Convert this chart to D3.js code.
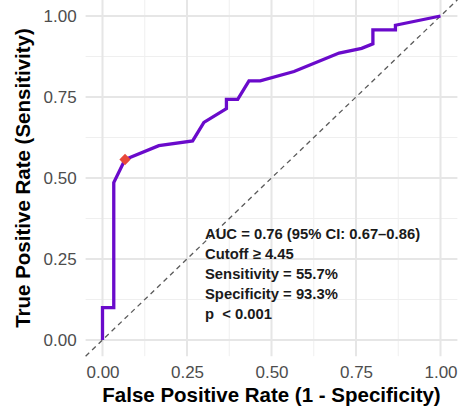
<!DOCTYPE html>
<html>
<head>
<meta charset="utf-8">
<script src="https://cdn.jsdelivr.net/npm/d3@7"></script>
<style>
  body { margin: 0; background: #fff; }
  text { font-family: "Liberation Sans", Arial, sans-serif; }
</style>
</head>
<body>
<svg id="svg" width="461" height="407"></svg>
<script>
// ROC curve points (false positive rate, true positive rate)
const fpr = [0, 0, 1/30, 1/30, 2/30, 5/30, 8/30, 9/30, 11/30, 11/30, 12/30, 13/30, 14/30, 17/30, 21/30, 23/30, 24/30, 24/30, 26/30, 26/30, 1];
const tpr = [0, 7/70, 7/70, 34/70, 39/70, 42/70, 43/70, 47/70, 50/70, 52/70, 52/70, 56/70, 56/70, 58/70, 62/70, 63/70, 64/70, 67/70, 67/70, 68/70, 1];

// optimal cutoff point
const cutFpr = [2/30];
const cutTpr = [39/70];

const tickValues = [0, 0.25, 0.5, 0.75, 1];
const minorTicks = [0.125, 0.375, 0.625, 0.875];

const annotation = [
  "AUC = 0.76 (95% CI: 0.67\u20130.86)",
  "Cutoff \u2265 4.45",
  "Sensitivity = 55.7%",
  "Specificity = 93.3%",
  "p  < 0.001"
];

var svg = d3.select("#svg");

var x = d3.scaleLinear().domain([-0.05, 1.05]).range([85.6, 457.4]);
var y = d3.scaleLinear().domain([-0.05, 1.05]).range([356.2, -0.2]);

var grid = svg.append("g");

// minor grid
grid.selectAll(".mx").data(minorTicks).enter().append("line")
  .attr("x1", d => x(d)).attr("x2", d => x(d))
  .attr("y1", y(-0.05)).attr("y2", y(1.05))
  .attr("stroke", "#efefef").attr("stroke-width", 1);
grid.selectAll(".my").data(minorTicks).enter().append("line")
  .attr("y1", d => y(d)).attr("y2", d => y(d))
  .attr("x1", x(-0.05)).attr("x2", x(1.05))
  .attr("stroke", "#efefef").attr("stroke-width", 1);

// major grid
grid.selectAll(".Mx").data(tickValues).enter().append("line")
  .attr("x1", d => x(d)).attr("x2", d => x(d))
  .attr("y1", y(-0.05)).attr("y2", y(1.05))
  .attr("stroke", "#e6e6e6").attr("stroke-width", 2);
grid.selectAll(".My").data(tickValues).enter().append("line")
  .attr("y1", d => y(d)).attr("y2", d => y(d))
  .attr("x1", x(-0.05)).attr("x2", x(1.05))
  .attr("stroke", "#e6e6e6").attr("stroke-width", 2);

// reference diagonal
svg.append("line")
  .attr("x1", x(-0.05)).attr("y1", y(-0.05))
  .attr("x2", x(1.05)).attr("y2", y(1.05))
  .attr("stroke", "#5a5a5a").attr("stroke-width", 1.3)
  .attr("stroke-dasharray", "5,4");

// ROC line
var pts = fpr.map((d, i) => [d, tpr[i]]);
var line = d3.line().x(d => x(d[0])).y(d => y(d[1]));
svg.append("path")
  .attr("d", line(pts))
  .attr("fill", "none")
  .attr("stroke", "#6a0acb")
  .attr("stroke-width", 3.3)
  .attr("stroke-linejoin", "miter");

// cutoff marker
svg.selectAll(".cut").data(cutFpr).enter().append("path")
  .attr("d", d3.symbol().type(d3.symbolSquare).size(64))
  .attr("transform", (d, i) => "translate(" + x(d) + "," + y(cutTpr[i]) + ") rotate(45)")
  .attr("fill", "#e8483a");

// axes
var xAxis = svg.append("g")
  .attr("transform", "translate(0," + (y(-0.05) + 4) + ")")
  .call(d3.axisBottom(x).tickValues(tickValues).tickFormat(d3.format(".2f")).tickSize(0).tickPadding(6));
xAxis.select(".domain").remove();
xAxis.selectAll("text").attr("fill", "#4d4d4d").style("font-size", "17px");

var yAxis = svg.append("g")
  .attr("transform", "translate(" + (x(-0.05) - 5) + ",0)")
  .call(d3.axisLeft(y).tickValues(tickValues).tickFormat(d3.format(".2f")).tickSize(0).tickPadding(4));
yAxis.select(".domain").remove();
yAxis.selectAll("text").attr("fill", "#4d4d4d").style("font-size", "17px");

// axis titles
svg.append("text")
  .attr("x", (x(-0.05) + x(1.05)) / 2)
  .attr("y", 402)
  .attr("text-anchor", "middle")
  .style("font-size", "20.5px").style("font-weight", "bold")
  .attr("fill", "#000")
  .text("False Positive Rate (1 - Specificity)");

svg.append("text")
  .attr("transform", "translate(30," + ((y(-0.05) + y(1.05)) / 2) + ") rotate(-90)")
  .attr("text-anchor", "middle")
  .style("font-size", "20.5px").style("font-weight", "bold")
  .attr("fill", "#000")
  .text("True Positive Rate (Sensitivity)");

// annotation
svg.selectAll(".ann").data(annotation).enter().append("text")
  .attr("x", 205)
  .attr("y", (d, i) => 239 + i * 20.1)
  .style("font-size", "14.8px").style("font-weight", "bold")
  .attr("fill", "#1a1a1a")
  .style("white-space", "pre")
  .text(d => d);
</script>
</body>
</html>
